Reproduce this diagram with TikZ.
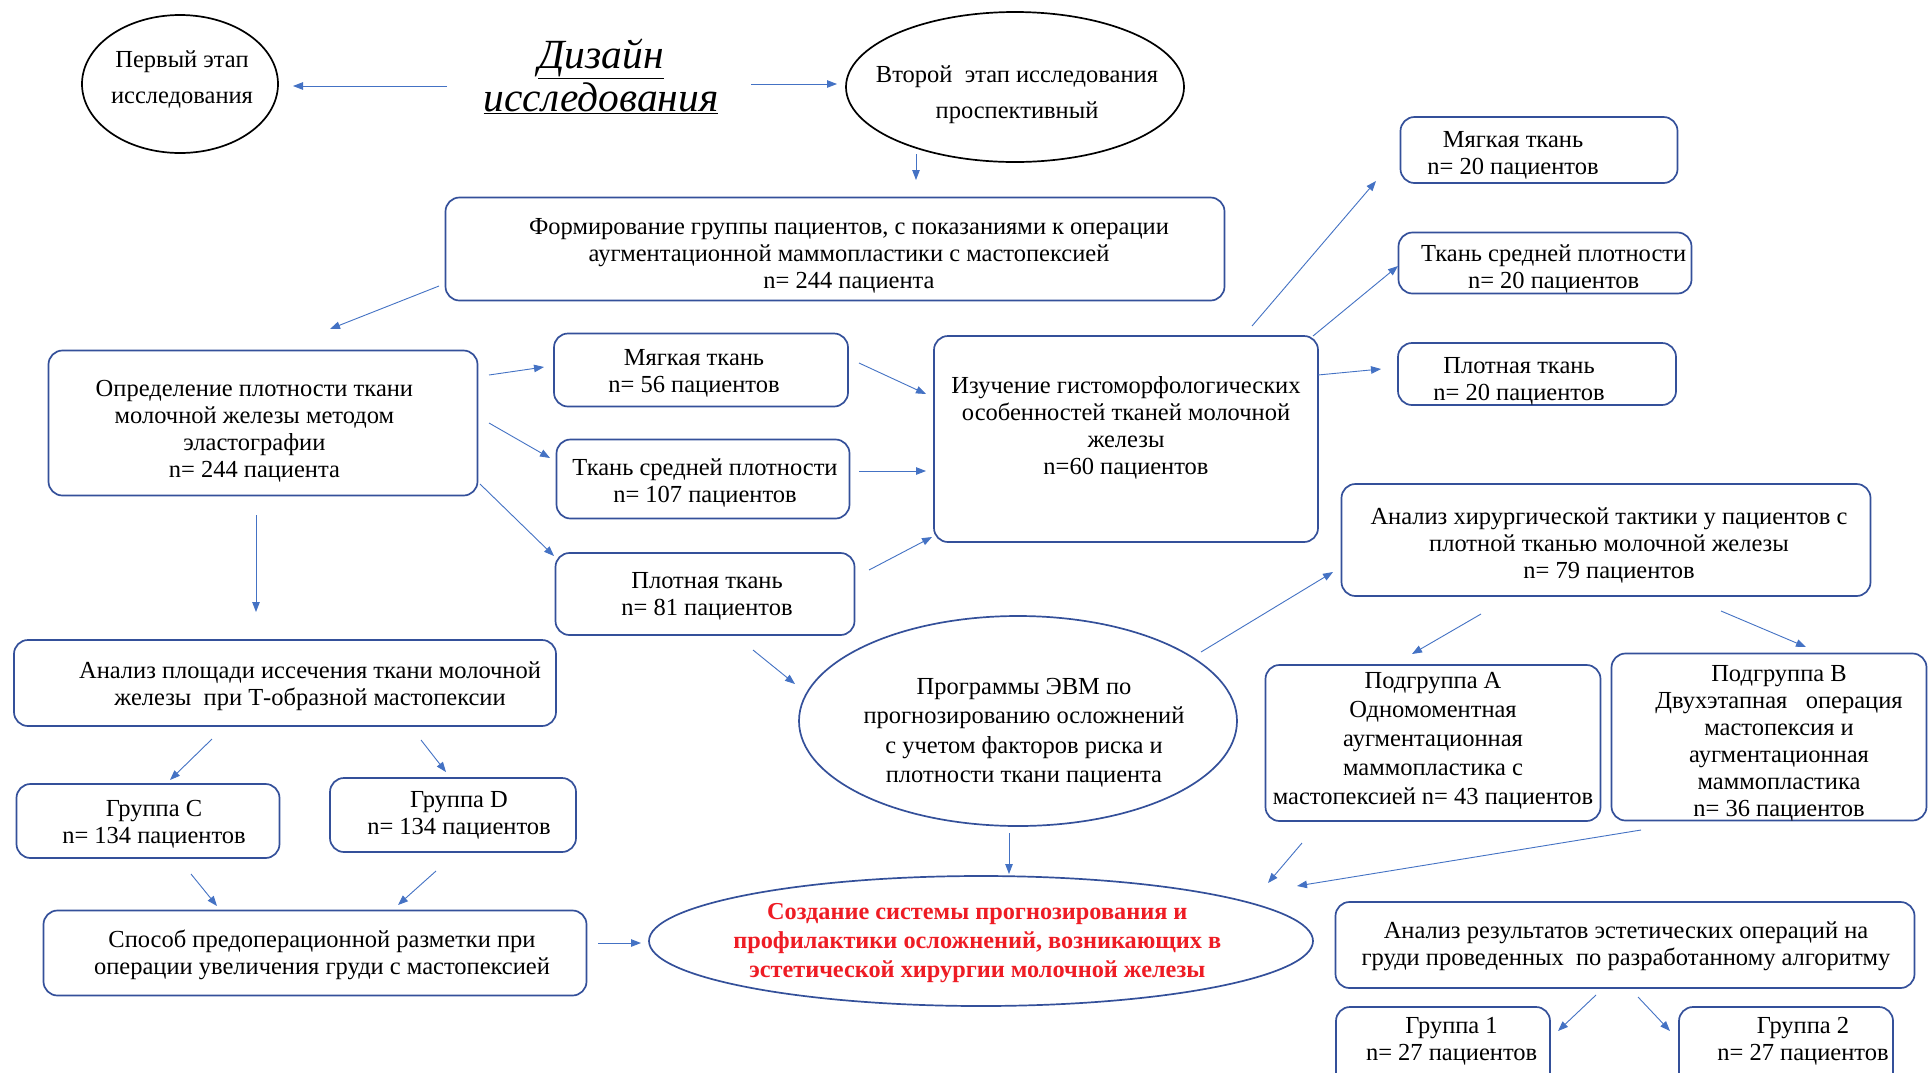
\documentclass[tikz,border=0pt]{standalone}
\usepackage{fontspec}
\setmainfont{Liberation Serif}
\usetikzlibrary{shapes.geometric,arrows.meta}
\definecolor{boxc}{HTML}{34509A}
\definecolor{arrc}{HTML}{4472C4}
\definecolor{redt}{HTML}{EE1C24}
% #1 = right shift, #2 = down shift, #3 = lines
\newcommand{\tx}[3]{\smash{\makebox[0pt]{\kern#1\raisebox{\dimexpr-0.25em-3pt-(#2)\relax}{\begin{tabular}{@{}c@{}}#3\end{tabular}}\kern-#1}}}
\begin{document}
\begin{tikzpicture}[x=1pt,y=-1pt,
 every node/.style={font=\fontsize{24.5}{27}\selectfont, align=center},
 bx/.style={draw=boxc, line width=1.7pt, rounded corners=14pt, fill=white, inner sep=0pt},
 el/.style={ellipse, draw=black, line width=1.7pt, inner sep=0pt},
 arr/.style={draw=arrc, line width=0.9pt, -{Triangle[length=10pt,width=7.5pt]}}]
\useasboundingbox (0,0) rectangle (1930,1072);
\clip (0,0) rectangle (1930,1072);
\fill[white] (0,0) rectangle (1930,1072);

% top
\node[el, minimum width=196, minimum height=138] (ell1) at (180,84) {\tx{2pt}{-7pt}{Первый этап\\[9pt]исследования}};
\node[font=\itshape\fontsize{41.5}{43}\selectfont] (title) at (601,76) {\underline{Дизайн}\\\underline{исследования}};
\node[el, minimum width=338, minimum height=150] (ell2) at (1015,87) {\tx{2pt}{5.5pt}{Второй\ \ этап исследования\\[9pt]проспективный}};
\node[bx, minimum width=779, minimum height=103] (form) at (835,249) {\tx{14pt}{4pt}{Формирование группы пациентов, с показаниями к операции\\аугментационной маммопластики с мастопексией\\n= 244 пациента}};

% left column
\node[bx, minimum width=429, minimum height=145] (opr) at (263,423) {\tx{-8.6pt}{5.5pt}{Определение плотности ткани\\молочной железы методом\\эластографии\\n= 244 пациента}};
\node[bx, minimum width=294, minimum height=73] (soft1) at (701,370) {\tx{-7pt}{1pt}{Мягкая ткань\\n= 56 пациентов}};
\node[bx, minimum width=293, minimum height=79] (mid1) at (703,479) {\tx{2pt}{2pt}{Ткань средней плотности\\n= 107 пациентов}};
\node[bx, minimum width=299, minimum height=82] (dense1) at (705,594) {\tx{2pt}{0pt}{Плотная ткань\\n= 81 пациентов}};
\node[bx, minimum width=384, minimum height=206] (izuch) at (1126,439) {\tx{0pt}{-13pt}{Изучение гистоморфологических\\особенностей тканей молочной\\железы\\n=60 пациентов}};

% right column
\node[bx, minimum width=277, minimum height=66] (soft2) at (1539,150) {\tx{-26pt}{2.5pt}{Мягкая ткань\\n= 20 пациентов}};
\node[bx, minimum width=293, minimum height=61] (mid2) at (1545,263) {\tx{8.6pt}{3.7pt}{Ткань средней плотности\\n= 20 пациентов}};
\node[bx, minimum width=278, minimum height=62] (dense2) at (1537,374) {\tx{-18pt}{5pt}{Плотная ткань\\n= 20 пациентов}};
\node[bx, minimum width=529, minimum height=112] (hir) at (1606,540) {\tx{3pt}{3pt}{Анализ хирургической тактики у пациентов с\\плотной тканью молочной железы\\n= 79 пациентов}};

\node[el, draw=boxc, minimum width=438, minimum height=210, font=\fontsize{24.5}{29.5}\selectfont] (evm) at (1018,721) {\tx{6pt}{8.6pt}{Программы ЭВМ по\\прогнозированию осложнений\\с учетом факторов риска и\\плотности ткани пациента}};
\node[bx, minimum width=335, minimum height=156, font=\fontsize{24.5}{29}\selectfont] (subA) at (1433,743) {\tx{0pt}{-5pt}{Подгруппа А\\Одномоментная\\аугментационная\\маммопластика с\\мастопексией n= 43 пациентов}};
\node[bx, minimum width=315, minimum height=167] (subB) at (1769,737) {\tx{10pt}{4pt}{Подгруппа В\\Двухэтапная\ \ \ операция\\мастопексия и\\аугментационная\\маммопластика\\n= 36 пациентов}};

% lower left
\node[bx, minimum width=542, minimum height=86] (plosh) at (285,683) {\tx{25pt}{1pt}{Анализ площади иссечения ткани молочной\\железы\ \ при Т-образной мастопексии}};
\node[bx, minimum width=263, minimum height=74] (grC) at (148,821) {\tx{6pt}{1pt}{Группа C\\n= 134 пациентов}};
\node[bx, minimum width=246, minimum height=74] (grD) at (453,815) {\tx{6pt}{-2pt}{Группа D\\n= 134 пациентов}};
\node[bx, minimum width=543, minimum height=85] (sposob) at (315,953) {\tx{7pt}{0pt}{Способ предоперационной разметки при\\операции увеличения груди с мастопексией}};

\node[el, draw=boxc, minimum width=664, minimum height=130, text=redt, font=\bfseries\fontsize{24.3}{29}\selectfont] (sozd) at (981,941) {\tx{-3.7pt}{-1pt}{Создание системы прогнозирования и\\профилактики осложнений, возникающих в\\эстетической хирургии молочной железы}};

% lower right
\node[bx, minimum width=579, minimum height=86] (res) at (1625,945) {\tx{1pt}{-1pt}{Анализ результатов эстетических операций на\\груди проведенных\ \ по разработанному алгоритму}};
\node[bx, minimum width=214, minimum height=80] (gr1) at (1443,1047) {\tx{8.6pt}{-8pt}{Группа 1\\n= 27 пациентов}};
\node[bx, minimum width=214, minimum height=80] (gr2) at (1786,1047) {\tx{17pt}{-8pt}{Группа 2\\n= 27 пациентов}};

% connectors
\draw[arr] ([shift={(-154,10)}]title.center) -- ([shift={(113,2)}]ell1.center);
\draw[arr] ([shift={(150,8)}]title.center) -- ([shift={(-178,-3)}]ell2.center);
\draw[arr] ([shift={(-99,67)}]ell2.center) -- ([shift={(81,-69)}]form.center);
\draw[arr] ([shift={(-396,37)}]form.center) -- ([shift={(67,-94)}]opr.center);
\draw[arr] ([shift={(226,-48)}]opr.center) -- ([shift={(-157,-3)}]soft1.center);
\draw[arr] ([shift={(226,0)}]opr.center) -- ([shift={(-153,-21)}]mid1.center);
\draw[arr] ([shift={(217,61)}]opr.center) -- ([shift={(-151,-38)}]dense1.center);
\draw[arr] ([shift={(158,-7)}]soft1.center) -- ([shift={(-200,-45)}]izuch.center);
\draw[arr] ([shift={(156,-8)}]mid1.center) -- ([shift={(-200,32)}]izuch.center);
\draw[arr] ([shift={(164,-24)}]dense1.center) -- ([shift={(-194,98)}]izuch.center);
\draw[arr] ([shift={(126,-113)}]izuch.center) -- ([shift={(-163,31)}]soft2.center);
\draw[arr] ([shift={(187,-103)}]izuch.center) -- ([shift={(-147,3)}]mid2.center);
\draw[arr] ([shift={(192,-64)}]izuch.center) -- ([shift={(-156,-5)}]dense2.center);
\draw[arr] ([shift={(48,56)}]dense1.center) -- ([shift={(-223,-37)}]evm.center);
\draw[arr] ([shift={(183,-69)}]evm.center) -- ([shift={(-273,32)}]hir.center);
\draw[arr] ([shift={(-125,74)}]hir.center) -- ([shift={(-21,-89)}]subA.center);
\draw[arr] ([shift={(115,71)}]hir.center) -- ([shift={(37,-90)}]subB.center);
\draw[arr] ([shift={(-9,112)}]evm.center) -- ([shift={(28,-67)}]sozd.center);
\draw[arr] ([shift={(-131,100)}]subA.center) -- ([shift={(287,-58)}]sozd.center);
\draw[arr] ([shift={(-128,93)}]subB.center) -- ([shift={(316,-55)}]sozd.center);
\draw[arr] ([shift={(-7,92)}]opr.center) -- ([shift={(-29,-71)}]plosh.center);
\draw[arr] ([shift={(-73,56)}]plosh.center) -- ([shift={(22,-41)}]grC.center);
\draw[arr] ([shift={(136,57)}]plosh.center) -- ([shift={(-7,-43)}]grD.center);
\draw[arr] ([shift={(43,53)}]grC.center) -- ([shift={(-98,-47)}]sposob.center);
\draw[arr] ([shift={(-17,56)}]grD.center) -- ([shift={(83,-48)}]sposob.center);
\draw[arr] ([shift={(283,-10)}]sposob.center) -- ([shift={(-340,2)}]sozd.center);
\draw[arr] ([shift={(-29,50)}]res.center) -- ([shift={(115,-16)}]gr1.center);
\draw[arr] ([shift={(13,52)}]res.center) -- ([shift={(-116,-16)}]gr2.center);
\end{tikzpicture}
\end{document}
